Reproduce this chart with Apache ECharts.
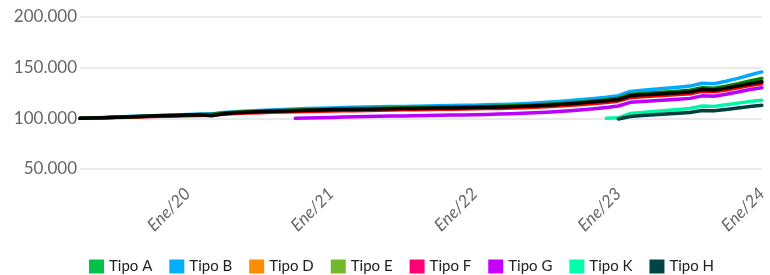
<!DOCTYPE html>
<html>
<head>
<meta charset="utf-8">
<script src="https://cdn.jsdelivr.net/npm/echarts@6/dist/echarts.min.js"></script>
<style>
  html, body { margin: 0; padding: 0; background: #fff; }
  #chart { width: 770px; height: 275px; }
</style>
</head>
<body>
<div id="chart"></div>
<script>
// meses abr/2019 .. ene/2024
var meses = ['Ene','Feb','Mar','Abr','May','Jun','Jul','Ago','Sep','Oct','Nov','Dic'];
var categorias = [];
for (var y = 2019; y <= 2024; y++) {
  for (var m = 0; m < 12; m++) {
    if (y == 2019 && m < 3) continue;
    if (y == 2024 && m > 0) continue;
    categorias.push(meses[m] + '/' + String(y).slice(2));
  }
}

var nombres = ['Tipo A','Tipo B','Tipo D','Tipo E','Tipo F','Tipo G','Tipo K','Tipo H'];
var coloresLeyenda = ['#00c244','#00b0ff','#ff8c00','#72b82c','#ff0077','#c400ff','#00ffaa','#004444'];
var coloresLinea = ['#008000','#00aaff','#000000','#008000','#ff0000','#bb00ff','#00f5a8','#004040'];

var tipoA = [100.0,100.3,100.7,101.1,101.5,101.9,102.3,102.7,103.0,103.4,
  103.8,104.0,105.3,106.0,106.5,107.0,107.4,107.8,108.2,108.5,
  108.8,109.1,109.4,109.6,109.8,110.0,110.2,110.4,110.6,110.8,
  111.0,111.2,111.3,111.5,111.7,112.0,112.3,112.7,113.2,113.8,
  114.5,115.3,116.2,117.2,118.3,119.8,123.6,124.6,125.3,126.0,
  126.8,127.8,130.2,129.8,131.8,134.2,137.0,139.4];
var tipoB = [100.0,100.4,100.9,101.3,101.8,102.2,102.6,103.0,103.4,103.8,
  104.2,104.4,105.8,106.6,107.2,107.8,108.3,108.8,109.2,109.6,
  110.0,110.3,110.6,110.9,111.2,111.4,111.6,111.8,112.0,112.2,
  112.4,112.6,112.8,113.0,113.3,113.6,114.0,114.5,115.1,115.8,
  116.6,117.5,118.5,119.6,120.8,122.4,126.6,127.8,128.7,129.6,
  130.6,131.8,134.6,134.2,136.6,139.4,142.8,145.8];
var tipoD = [100.0,100.3,100.6,101.0,101.4,101.8,102.2,102.5,102.9,103.2,
  103.6,102.6,104.6,105.4,106.0,106.5,106.9,107.3,107.6,107.9,
  108.2,108.4,108.6,108.8,109.0,109.2,109.4,109.6,109.8,110.0,
  110.2,110.3,110.5,110.7,110.9,111.2,111.5,111.9,112.4,113.0,
  113.7,114.5,115.4,116.3,117.4,118.6,122.2,123.2,123.8,124.5,
  125.2,126.1,128.4,128.0,129.8,132.0,134.2,136.0];
var tipoE = [100.0,100.3,100.6,101.0,101.4,101.8,102.2,102.5,102.9,103.2,
  103.6,103.8,104.6,105.4,106.0,106.5,106.9,107.3,107.6,107.9,
  108.2,108.4,108.6,108.8,109.0,109.2,109.4,109.6,109.8,110.0,
  110.2,110.3,110.5,110.7,110.9,111.2,111.5,111.9,112.4,113.0,
  113.7,114.5,115.4,116.3,117.4,118.6,122.2,123.2,123.8,124.5,
  125.2,126.1,128.4,128.0,129.8,132.0,134.2,136.0];
var tipoF = [100.0,100.2,100.5,100.8,101.1,101.4,101.7,102.0,102.3,102.6,
  102.9,103.1,104.0,104.7,105.2,105.6,105.9,106.2,106.5,106.7,
  107.0,107.2,107.4,107.6,107.8,108.0,108.2,108.4,108.5,108.7,
  108.9,109.0,109.2,109.4,109.6,109.8,110.1,110.5,110.9,111.5,
  112.1,112.9,113.7,114.6,115.6,117.0,120.4,121.4,122.0,122.7,
  123.4,124.3,126.6,126.2,128.0,130.2,132.4,134.2];
var tipoG = [null,null,null,null,null,null,null,null,null,null,
  null,null,null,null,null,null,null,null,100.0,100.3,
  100.6,100.9,101.2,101.5,101.8,102.0,102.2,102.4,102.6,102.8,
  103.0,103.2,103.4,103.6,103.9,104.2,104.6,105.0,105.5,106.1,
  106.8,107.6,108.5,109.5,110.7,112.2,115.8,116.7,117.3,118.0,
  118.8,119.7,122.2,121.8,123.8,126.0,128.4,130.2];
var tipoK = [null,null,null,null,null,null,null,null,null,null,
  null,null,null,null,null,null,null,null,null,null,
  null,null,null,null,null,null,null,null,null,null,
  null,null,null,null,null,null,null,null,null,null,
  null,null,null,null,100.0,100.5,104.8,105.8,106.8,107.8,
  108.8,109.8,112.2,111.8,113.4,115.0,116.6,117.8];
var tipoH = [null,null,null,null,null,null,null,null,null,null,
  null,null,null,null,null,null,null,null,null,null,
  null,null,null,null,null,null,null,null,null,null,
  null,null,null,null,null,null,null,null,null,null,
  null,null,null,null,null,99.4,101.8,102.9,103.6,104.3,
  105.0,105.7,107.8,107.4,108.8,110.2,111.6,112.8];

var datos = [tipoA, tipoB, tipoD, tipoE, tipoF, tipoG, tipoK, tipoH];
var orden = [5, 3, 6, 1, 2, 5, 7, 8];

function miles(v) {
  return String(Math.round(v)).replace(/\B(?=(\d{3})+(?!\d))/g, '.');
}

var chart = echarts.init(document.getElementById('chart'));

var series = [];
for (var i = 0; i < nombres.length; i++) {
  series.push({
    name: nombres[i],
    type: 'line',
    showSymbol: false,
    z: orden[i],
    itemStyle: { color: coloresLeyenda[i] },
    lineStyle: { color: coloresLinea[i], width: 3.5, cap: 'round', join: 'round' },
    data: datos[i].map(function (v) { return v == null ? null : v * 1000; })
  });
}

var option = {
  animation: false,
  grid: { left: 80, right: 0, top: 17, bottom: 106 },
  legend: {
    top: 254,
    left: 84,
    icon: 'rect',
    itemWidth: 15,
    itemHeight: 14,
    itemGap: 17,
    textStyle: { fontFamily: 'Lato', fontSize: 15, color: '#222' },
    data: nombres.map(function (n, i) {
      return { name: n, itemStyle: { color: coloresLeyenda[i] } };
    })
  },
  xAxis: {
    type: 'category',
    boundaryGap: false,
    data: categorias,
    axisLine: { show: false },
    axisTick: { show: false },
    splitLine: { show: false },
    axisLabel: {
      rotate: 45,
      margin: 22,
      fontFamily: 'Lato',
      fontSize: 17,
      fontStyle: 'italic',
      color: '#666',
      interval: function (idx, val) { return val.indexOf('Ene') === 0; }
    }
  },
  yAxis: {
    type: 'value',
    min: 50000,
    max: 200000,
    interval: 50000,
    axisLine: { show: false },
    axisTick: { show: false },
    splitLine: { lineStyle: { color: '#e2e2e2', width: 1.5 } },
    axisLabel: {
      margin: 3,
      fontFamily: 'Lato',
      fontSize: 17,
      color: '#666',
      formatter: miles
    }
  },
  series: series
};

chart.setOption(option);
</script>
</body>
</html>
